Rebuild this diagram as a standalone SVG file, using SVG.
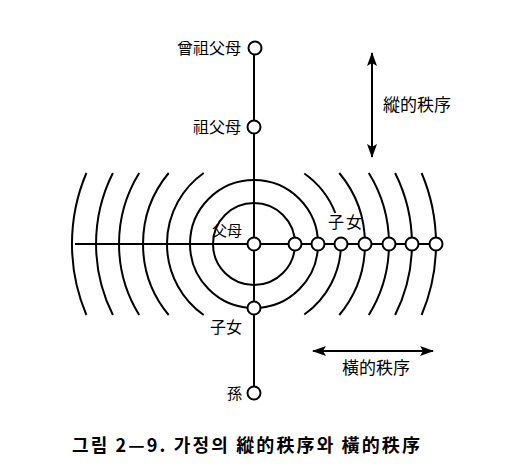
<svg xmlns="http://www.w3.org/2000/svg" width="528" height="468" viewBox="0 0 528 468">
<defs>
<style>
.ln{stroke:#000;stroke-width:2;fill:none}
.arc{stroke:#000;stroke-width:2;fill:none}
.nd{stroke:#000;stroke-width:2;fill:#fff}
.lb{font-family:"Noto Sans CJK KR","Noto Sans CJK TC",sans-serif;font-size:16px;fill:#000}
.cap{font-family:"Noto Sans CJK KR",sans-serif;font-size:18px;font-weight:bold;fill:#000}
</style>
<marker id="ah" viewBox="0 0 14 10" refX="13" refY="5" markerWidth="14" markerHeight="10" markerUnits="userSpaceOnUse" orient="auto-start-reverse">
<path d="M0,0 L14,5 L0,10 L3,5 Z" fill="#000"/>
</marker>
</defs>
<rect width="528" height="468" fill="#fff"/>
<g id="connectors">
<line class="ln" x1="254" y1="48" x2="254" y2="393"/>
<line class="ln" x1="75" y1="244" x2="436" y2="244"/>
<circle class="arc" cx="254" cy="244" r="41"/>
<circle class="arc" cx="254" cy="244" r="64"/>
<path class="arc" d="M335.3,213 A87,87 0 0 0 304.3,173.5"/>
<path class="arc" d="M341,244 A87,87 0 0 1 304.3,314.5"/>
<path class="arc" d="M339.3,173 A111,111 0 0 1 339.3,315"/>
<path class="arc" d="M368.8,173 A135,135 0 0 1 368.8,315"/>
<path class="arc" d="M395.1,173 A158,158 0 0 1 395.1,315"/>
<path class="arc" d="M421.6,173 A182,182 0 0 1 421.6,315"/>
<path class="arc" d="M203.7,173 A87,87 0 0 0 203.7,315"/>
<path class="arc" d="M168.7,173 A111,111 0 0 0 168.7,315"/>
<path class="arc" d="M139.2,173 A135,135 0 0 0 139.2,315"/>
<path class="arc" d="M112.9,173 A158,158 0 0 0 112.9,315"/>
<path class="arc" d="M86.4,173 A182,182 0 0 0 86.4,315"/>
<line class="ln" x1="372" y1="53" x2="372" y2="157" marker-start="url(#ah)" marker-end="url(#ah)"/>
<line class="ln" x1="313" y1="351" x2="433" y2="351" marker-start="url(#ah)" marker-end="url(#ah)"/>
</g>
<g id="n-greatgrand"><circle class="nd" cx="255" cy="48" r="6.5"/><text class="lb" x="241" y="54" text-anchor="end">曾祖父母</text></g>
<g id="n-grand"><circle class="nd" cx="254" cy="127" r="6.5"/><text class="lb" x="241" y="133" text-anchor="end">祖父母</text></g>
<g id="n-parent"><circle class="nd" cx="254" cy="244" r="6.5"/><text class="lb" x="212" y="236" style="font-size:15px">父母</text></g>
<g id="n-child-v"><circle class="nd" cx="254" cy="308" r="6.5"/><text class="lb" x="210" y="333">子女</text></g>
<g id="n-grandchild"><circle class="nd" cx="254" cy="393" r="6.5"/><text class="lb" x="242" y="399" text-anchor="end" style="font-size:15px">孫</text></g>
<g id="n-child-h">
<circle class="nd" cx="295" cy="244" r="6.5"/>
<circle class="nd" cx="318" cy="244" r="6.5"/>
<circle class="nd" cx="341" cy="244" r="6.5"/>
<circle class="nd" cx="365" cy="244" r="6.5"/>
<circle class="nd" cx="389" cy="244" r="6.5"/>
<circle class="nd" cx="412" cy="244" r="6.5"/>
<circle class="nd" cx="436" cy="244" r="6.5"/>
<text class="lb" x="328" y="228" style="letter-spacing:2px">子女</text>
</g>
<g id="l-vertical"><text class="lb" x="383" y="111" style="font-size:17px">縱的秩序</text></g>
<g id="l-horizontal"><text class="lb" x="342" y="374" style="font-size:17px">橫的秩序</text></g>
<g id="caption"><text class="cap" x="72" y="452" textLength="348" lengthAdjust="spacing">그림 2—9. 가정의 縱的秩序와 橫的秩序</text></g>
</svg>
